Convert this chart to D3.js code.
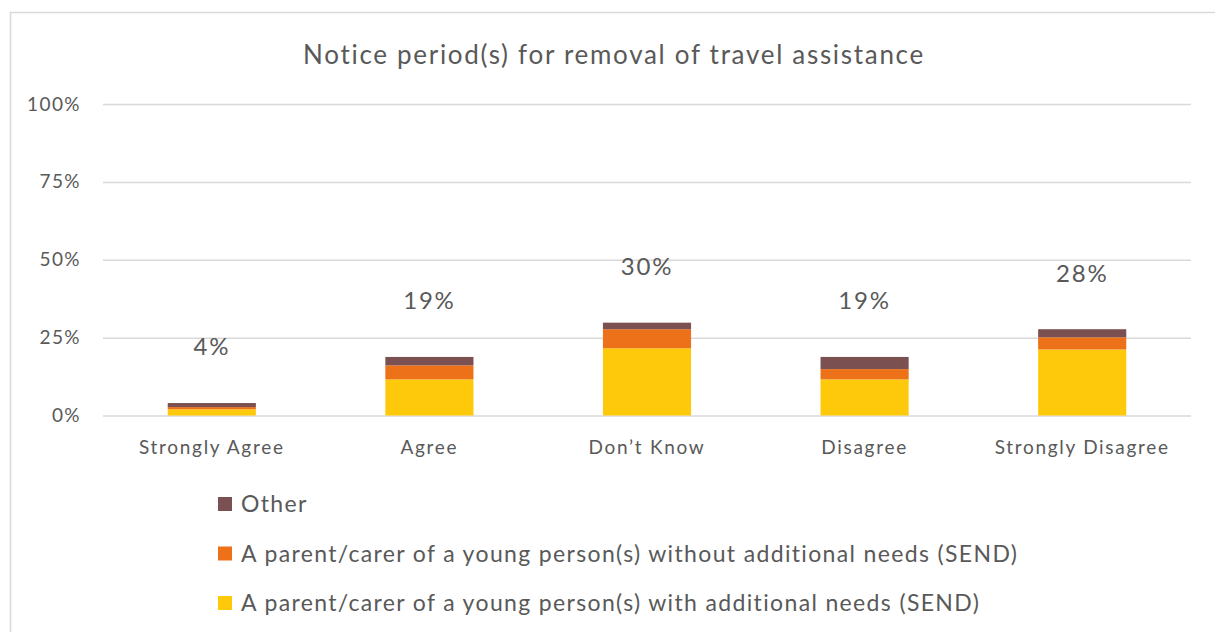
<!DOCTYPE html>
<html>
<head>
<meta charset="utf-8">
<script src="https://cdn.jsdelivr.net/npm/d3@7"></script>
<style>
  html, body { margin: 0; padding: 0; background: #fff; }
  svg { display: block; }
  text { font-family: Lato, "Open Sans", sans-serif; fill: #595959; }
</style>
</head>
<body>
<svg id="chart" width="1215" height="632"></svg>
<script>
// Response categories along the x axis
const categories = ["Strongly Agree", "Agree", "Don\u2019t Know", "Disagree", "Strongly Disagree"];

// Stacked series (percent of respondents), bottom to top
const sendParents    = [2.0, 11.6, 21.6, 11.6, 21.2];
const nonSendParents = [0.7, 4.5, 6.1, 3.3, 3.9];
const otherResp      = [1.3, 2.7, 2.1, 3.9, 2.6];

const seriesNames = [
  "A parent/carer of a young person(s) with additional needs (SEND)",
  "A parent/carer of a young person(s) without additional needs (SEND)",
  "Other"
];
const seriesColors = ["#FFC90B", "#EC7118", "#7B5050"];

const yTicks = [0, 25, 50, 75, 100];

const rows = categories.map((c, i) => ({
  cat: c,
  s0: sendParents[i],
  s1: nonSendParents[i],
  s2: otherResp[i]
}));
const keys = ["s0", "s1", "s2"];
const stacked = d3.stack().keys(keys)(rows);

const svg = d3.select("#chart");
const W = 1215, H = 632;
const plot = { left: 103, right: 1191, top: 104, bottom: 415.5 };

// Outer chart border (runs off the right and bottom edges)
svg.append("rect")
  .attr("x", 10.5).attr("y", 12.5)
  .attr("width", W + 20).attr("height", H + 20)
  .attr("fill", "none").attr("stroke", "#D9D9D9").attr("stroke-width", 1.5);

const x = d3.scaleBand().domain(categories).range([plot.left, plot.right]).paddingInner(0.595).paddingOuter(0.2975);
const y = d3.scaleLinear().domain([0, 100]).range([plot.bottom, plot.top]);

// Gridlines and y labels
const yAxis = d3.axisLeft(y).tickValues(yTicks).tickFormat(d => d + "%")
  .tickSize(-(plot.right - plot.left)).tickPadding(22);
const gy = svg.append("g").attr("transform", `translate(${plot.left},0)`).call(yAxis);
gy.select(".domain").remove();
gy.selectAll(".tick line").attr("stroke", "#D9D9D9").attr("stroke-width", 1.5);
gy.selectAll(".tick text").attr("font-size", 19).attr("fill", "#595959")
  .attr("font-family", "Lato, sans-serif").attr("letter-spacing", 1.4);

// Category labels
const xAxis = d3.axisBottom(x).tickSize(0).tickPadding(25);
const gx = svg.append("g").attr("transform", `translate(0,${plot.bottom})`).call(xAxis);
gx.select(".domain").remove();
gx.selectAll(".tick text").attr("font-size", 19).attr("fill", "#595959")
  .attr("font-family", "Lato, sans-serif").attr("letter-spacing", 1.7);

// Stacked bars
svg.append("g").selectAll("g")
  .data(stacked)
  .join("g")
  .attr("fill", (d, i) => seriesColors[i])
  .selectAll("rect")
  .data(d => d)
  .join("rect")
  .attr("x", d => x(d.data.cat))
  .attr("width", x.bandwidth())
  .attr("y", d => y(d[1]))
  .attr("height", d => y(d[0]) - y(d[1]));

// Total labels above each stack
const totals = rows.map(r => r.s0 + r.s1 + r.s2);
svg.append("g").selectAll("text")
  .data(rows)
  .join("text")
  .attr("x", d => x(d.cat) + x.bandwidth() / 2)
  .attr("y", (d, i) => y(totals[i] + 18))
  .attr("dy", "0.35em")
  .attr("text-anchor", "middle")
  .attr("font-size", 24)
  .attr("letter-spacing", 1.8)
  .text((d, i) => Math.round(totals[i]) + "%");

// Title
svg.append("text")
  .attr("x", 614).attr("y", 55)
  .attr("dy", "0.35em")
  .attr("text-anchor", "middle")
  .attr("font-size", 26)
  .attr("letter-spacing", 1.7)
  .text("Notice period(s) for removal of travel assistance");

// Legend (top entry is the top of the stack)
const legendOrder = [2, 1, 0];
const lg = svg.append("g").selectAll("g")
  .data(legendOrder)
  .join("g")
  .attr("transform", (d, i) => `translate(218,${504 + i * 49.5})`);
lg.append("rect")
  .attr("x", 0).attr("y", -7).attr("width", 14).attr("height", 14)
  .attr("fill", d => seriesColors[d]);
lg.append("text")
  .attr("x", 23).attr("y", 0).attr("dy", "0.35em")
  .attr("font-size", 23)
  .attr("letter-spacing", 1.35)
  .text(d => seriesNames[d]);
</script>
</body>
</html>
